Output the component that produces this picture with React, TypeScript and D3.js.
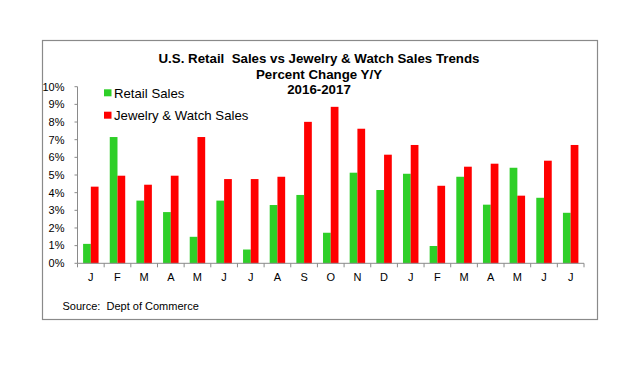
import React from "react";
import { scaleBand, scaleLinear, range } from "d3";

const width = 643;
const height = 367;

// months Jan 2016 - Jul 2017
const months = ["J", "F", "M", "A", "M", "J", "J", "A", "S", "O", "N", "D", "J", "F", "M", "A", "M", "J", "J"];
const retailSales = [1.1, 7.15, 3.55, 2.9, 1.5, 3.55, 0.78, 3.3, 3.87, 1.73, 5.13, 4.15, 5.07, 0.98, 4.9, 3.32, 5.41, 3.71, 2.86];
const jewelrySales = [4.34, 4.96, 4.45, 4.96, 7.15, 4.77, 4.77, 4.9, 8.01, 8.86, 7.62, 6.15, 6.7, 4.39, 5.47, 5.64, 3.83, 5.81, 6.7];
const yTicks = range(0, 11);

const seriesNames = ["Retail Sales", "Jewelry & Watch Sales"];
const green = "#2ecf28";
const red = "#ff0000";
const axisColor = "#8a8a8a";

const plot = { left: 77.5, right: 584, top: 86.7, bottom: 263.3 };

export default function App() {
  const xScale = scaleBand<number>()
    .domain(months.map((_, i) => i))
    .range([plot.left, plot.right]);

  const yScale = scaleLinear().domain([0, 10]).range([plot.bottom, plot.top]);

  const bw = xScale.bandwidth();
  const barW = bw * 0.29;
  const groupOffset = (bw - barW * 2) / 2;

  return (
    <svg width={width} height={height} style={{ position: "absolute", left: 0, top: 0, fontFamily: "Arial, 'Liberation Sans', sans-serif" }}>
      <rect x={0} y={0} width={width} height={height} fill="#fff" />
      <rect x={42.5} y={40.5} width={555} height={279} fill="#fff" stroke={axisColor} strokeWidth={1.2} />

      {/* title */}
      <g fontWeight="bold" fontSize={13.3} textAnchor="middle" fill="#000">
        <text x={319} y={63}>{"U.S. Retail\u00A0 Sales vs Jewelry & Watch Sales Trends"}</text>
        <text x={319} y={78.5}>Percent Change Y/Y</text>
        <text x={319} y={94}>2016-2017</text>
      </g>

      {/* legend */}
      <rect x={104} y={89.3} width={7.5} height={7} fill={green} />
      <text x={114} y={98} fontSize={13.2}>{seriesNames[0]}</text>
      <rect x={104} y={111.7} width={7.5} height={7} fill={red} />
      <text x={114} y={120.3} fontSize={13.2}>{seriesNames[1]}</text>

      {/* bars */}
      {months.map((m, i) => {
        const x0 = (xScale(i) ?? 0) + groupOffset;
        return (
          <g key={i}>
            <rect x={x0} y={yScale(retailSales[i])} width={barW} height={plot.bottom - yScale(retailSales[i])} fill={green} />
            <rect x={x0 + barW} y={yScale(jewelrySales[i])} width={barW} height={plot.bottom - yScale(jewelrySales[i])} fill={red} />
          </g>
        );
      })}

      {/* Y axis */}
      <line x1={plot.left} x2={plot.left} y1={plot.top} y2={plot.bottom} stroke={axisColor} />
      {yTicks.map((t) => (
        <g key={t} transform={`translate(0, ${yScale(t)})`}>
          <line x1={plot.left - 3} x2={plot.left} stroke={axisColor} />
          <text x={64.5} dy="0.35em" textAnchor="end" fontSize={11}>{t}%</text>
        </g>
      ))}

      {/* X axis */}
      <line x1={plot.left} x2={plot.right} y1={plot.bottom} y2={plot.bottom} stroke={axisColor} />
      {range(months.length + 1).map((i) => {
        const x = plot.left + i * bw;
        return <line key={i} x1={x} x2={x} y1={plot.bottom} y2={plot.bottom + 4} stroke={axisColor} />;
      })}
      {months.map((m, i) => (
        <text key={i} x={(xScale(i) ?? 0) + bw / 2} y={280.5} textAnchor="middle" fontSize={11}>{m}</text>
      ))}

      <text x={62.5} y={309.5} fontSize={11}>{"Source:\u00A0 Dept of Commerce"}</text>
    </svg>
  );
}
